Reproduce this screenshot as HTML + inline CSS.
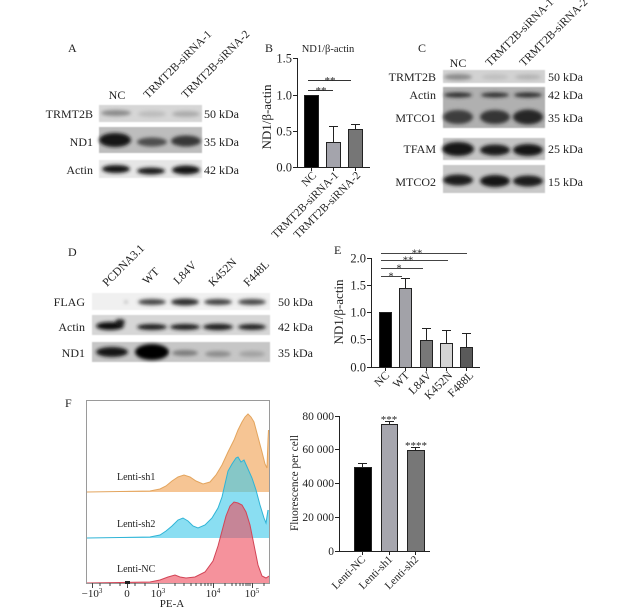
<!DOCTYPE html>
<html><head><meta charset="utf-8">
<style>
html,body{margin:0;padding:0;background:#fff;}
svg{display:block;}
text{font-family:"Liberation Serif","DejaVu Serif",serif;fill:#222;}
</style></head>
<body>
<svg width="640" height="608" viewBox="0 0 640 608" xmlns="http://www.w3.org/2000/svg">
<defs>
<filter id="b" x="-50%" y="-80%" width="200%" height="260%"><feGaussianBlur stdDeviation="1.8"/></filter>
<filter id="b2" x="-10%" y="-30%" width="120%" height="160%"><feGaussianBlur stdDeviation="0.6"/></filter>
</defs>

<!-- ============ Panel A ============ -->
<text x="68" y="52" font-size="12">A</text>
<text x="117" y="99" font-size="12" text-anchor="middle">NC</text>
<text font-size="11.5" transform="translate(148,99) rotate(-45)">TRMT2B-siRNA-1</text>
<text font-size="11.5" transform="translate(186,99) rotate(-45)">TRMT2B-siRNA-2</text>
<text x="93" y="118" font-size="12" text-anchor="end">TRMT2B</text>
<text x="93" y="146" font-size="12" text-anchor="end">ND1</text>
<text x="93" y="174" font-size="12" text-anchor="end">Actin</text>
<text x="204" y="118" font-size="12">50 kDa</text>
<text x="204" y="146" font-size="12">35 kDa</text>
<text x="204" y="174" font-size="12">42 kDa</text>
<rect x="99" y="105" width="103" height="17" fill="#d6d6d6" filter="url(#b2)"/>
<g filter="url(#b)">
<ellipse cx="116" cy="113" rx="15" ry="3" fill="#8a8a8a"/>
<ellipse cx="152" cy="114" rx="14" ry="3" fill="#bcbcbc"/>
<ellipse cx="186" cy="114" rx="14" ry="3" fill="#ababab"/>
</g>
<rect x="99" y="127" width="103" height="26" fill="#bdbdbd" filter="url(#b2)"/>
<g filter="url(#b)">
<ellipse cx="115" cy="140" rx="16" ry="7" fill="#121212"/>
<ellipse cx="152" cy="142" rx="15" ry="4.5" fill="#4e4e4e"/>
<ellipse cx="186" cy="141" rx="15" ry="5.5" fill="#383838"/>
</g>
<rect x="99" y="160" width="103" height="18" fill="#e6e6e6" filter="url(#b2)"/>
<g filter="url(#b)">
<ellipse cx="116" cy="169" rx="14" ry="4" fill="#151515"/>
<ellipse cx="151" cy="171" rx="14" ry="3.5" fill="#1e1e1e"/>
<ellipse cx="186" cy="170" rx="14" ry="4.5" fill="#141414"/>
</g>

<!-- ============ Panel B ============ -->
<text x="265" y="52" font-size="12">B</text>
<text x="328" y="52" font-size="10.5" text-anchor="middle">ND1/β-actin</text>
<text font-size="13" text-anchor="middle" transform="translate(271,117) rotate(-90)">ND1/β-actin</text>
<g stroke="#222" stroke-width="1" fill="none">
<line x1="297.5" y1="58" x2="297.5" y2="167.5"/>
<line x1="297" y1="167.5" x2="370" y2="167.5"/>
<line x1="293" y1="58.5" x2="297" y2="58.5"/>
<line x1="293" y1="95.5" x2="297" y2="95.5"/>
<line x1="293" y1="131.5" x2="297" y2="131.5"/>
<line x1="293" y1="167.5" x2="297" y2="167.5"/>
<line x1="311.5" y1="167" x2="311.5" y2="171"/>
<line x1="333.5" y1="167" x2="333.5" y2="171"/>
<line x1="355.5" y1="167" x2="355.5" y2="171"/>
</g>
<text x="292" y="62.5" font-size="12.5" text-anchor="end">1.5</text>
<text x="292" y="99.5" font-size="12.5" text-anchor="end">1.0</text>
<text x="292" y="135.5" font-size="12.5" text-anchor="end">0.5</text>
<text x="292" y="171.5" font-size="12.5" text-anchor="end">0.0</text>
<rect x="304.5" y="95.5" width="14" height="72" fill="#000" stroke="#222"/>
<g stroke="#222" stroke-width="1">
<line x1="333.5" y1="142" x2="333.5" y2="126.5"/><line x1="329" y1="126.5" x2="338" y2="126.5"/>
<line x1="355.5" y1="129" x2="355.5" y2="124.5"/><line x1="351" y1="124.5" x2="360" y2="124.5"/>
</g>
<rect x="326.5" y="142.5" width="14" height="25" fill="#a4a4ac" stroke="#222"/>
<rect x="348.5" y="129.5" width="14" height="38" fill="#767676" stroke="#222"/>
<g stroke="#333" stroke-width="1">
<line x1="308" y1="80.5" x2="351" y2="80.5"/>
<line x1="308" y1="90.5" x2="333" y2="90.5"/>
</g>
<text x="330" y="84" font-size="11" text-anchor="middle">**</text>
<text x="321" y="94" font-size="11" text-anchor="middle">**</text>
<text font-size="11.3" text-anchor="end" transform="translate(317,176) rotate(-45)">NC</text>
<text font-size="11.3" text-anchor="end" transform="translate(339,176) rotate(-45)">TRMT2B-siRNA-1</text>
<text font-size="11.3" text-anchor="end" transform="translate(361,176) rotate(-45)">TRMT2B-siRNA-2</text>

<!-- ============ Panel C ============ -->
<text x="418" y="52" font-size="12">C</text>
<text x="458" y="67" font-size="12" text-anchor="middle">NC</text>
<text font-size="11.5" transform="translate(490,67) rotate(-45)">TRMT2B-siRNA-1</text>
<text font-size="11.5" transform="translate(524,67) rotate(-45)">TRMT2B-siRNA-2</text>
<text x="436" y="81" font-size="12" text-anchor="end">TRMT2B</text>
<text x="436" y="99" font-size="12" text-anchor="end">Actin</text>
<text x="436" y="122" font-size="12" text-anchor="end">MTCO1</text>
<text x="436" y="153" font-size="12" text-anchor="end">TFAM</text>
<text x="436" y="186" font-size="12" text-anchor="end">MTCO2</text>
<text x="548" y="81" font-size="12">50 kDa</text>
<text x="548" y="99" font-size="12">42 kDa</text>
<text x="548" y="122" font-size="12">35 kDa</text>
<text x="548" y="153" font-size="12">25 kDa</text>
<text x="548" y="186" font-size="12">15 kDa</text>
<rect x="443" y="70" width="102" height="13" fill="#d2d2d2" filter="url(#b2)"/>
<g filter="url(#b)">
<ellipse cx="458" cy="77" rx="14" ry="3" fill="#8a8a8a"/>
<ellipse cx="495" cy="77" rx="13" ry="2.5" fill="#bebebe"/>
<ellipse cx="528" cy="77" rx="13" ry="2.5" fill="#b2b2b2"/>
</g>
<rect x="443" y="87" width="102" height="41" fill="#b0b0b0" filter="url(#b2)"/>
<g filter="url(#b)">
<ellipse cx="458" cy="95" rx="14" ry="2.5" fill="#2a2a2a"/>
<ellipse cx="495" cy="95" rx="14" ry="2.5" fill="#2e2e2e"/>
<ellipse cx="528" cy="95" rx="14" ry="2.5" fill="#2a2a2a"/>
<ellipse cx="458" cy="117" rx="15" ry="7" fill="#3e3e3e"/>
<ellipse cx="495" cy="117" rx="15" ry="7" fill="#343434"/>
<ellipse cx="528" cy="117" rx="15" ry="7.5" fill="#262626"/>
</g>
<rect x="443" y="138" width="102" height="22" fill="#c4c4c4" filter="url(#b2)"/>
<g filter="url(#b)">
<ellipse cx="458" cy="149" rx="16" ry="7" fill="#121212"/>
<ellipse cx="495" cy="150" rx="15" ry="5.5" fill="#1e1e1e"/>
<ellipse cx="528" cy="150" rx="15" ry="6" fill="#181818"/>
</g>
<rect x="443" y="165" width="102" height="28" fill="#c8c8c8" filter="url(#b2)"/>
<g filter="url(#b)">
<ellipse cx="458" cy="180" rx="15" ry="5.5" fill="#1e1e1e"/>
<ellipse cx="495" cy="181" rx="15" ry="6" fill="#161616"/>
<ellipse cx="528" cy="181" rx="15" ry="5.5" fill="#1e1e1e"/>
</g>

<!-- ============ Panel D ============ -->
<text x="68" y="256" font-size="12">D</text>
<text font-size="11.6" transform="translate(107,287) rotate(-45)">PCDNA3.1</text>
<text font-size="11.6" transform="translate(147,285) rotate(-45)">WT</text>
<text font-size="11.6" transform="translate(178,285) rotate(-45)">L84V</text>
<text font-size="11.6" transform="translate(213,287) rotate(-45)">K452N</text>
<text font-size="11.6" transform="translate(248,287) rotate(-45)">F448L</text>
<text x="85" y="306" font-size="12" text-anchor="end">FLAG</text>
<text x="85" y="331" font-size="12" text-anchor="end">Actin</text>
<text x="85" y="357" font-size="12" text-anchor="end">ND1</text>
<text x="278" y="306" font-size="12">50 kDa</text>
<text x="278" y="331" font-size="12">42 kDa</text>
<text x="278" y="357" font-size="12">35 kDa</text>
<rect x="92" y="293" width="178" height="17" fill="#f0f0f0" filter="url(#b2)"/>
<g filter="url(#b)">
<ellipse cx="152" cy="302" rx="14" ry="3" fill="#444"/>
<ellipse cx="185" cy="302" rx="14" ry="3.5" fill="#2e2e2e"/>
<ellipse cx="218" cy="302" rx="14" ry="3" fill="#404040"/>
<ellipse cx="252" cy="302" rx="14" ry="3" fill="#464646"/>
<ellipse cx="126" cy="302" rx="1.5" ry="1" fill="#888"/>
</g>
<rect x="92" y="315" width="178" height="20" fill="#d6d6d6" filter="url(#b2)"/>
<g filter="url(#b)">
<ellipse cx="110" cy="326" rx="14" ry="4" fill="#0e0e0e"/>
<ellipse cx="120" cy="322" rx="5" ry="3" fill="#222"/>
<ellipse cx="152" cy="327" rx="15" ry="3" fill="#1e1e1e"/>
<ellipse cx="185" cy="327" rx="15" ry="3" fill="#1e1e1e"/>
<ellipse cx="218" cy="327" rx="15" ry="3.2" fill="#1a1a1a"/>
<ellipse cx="252" cy="327" rx="14" ry="3" fill="#222"/>
</g>
<rect x="92" y="342" width="178" height="20" fill="#c6c6c6" filter="url(#b2)"/>
<g filter="url(#b)">
<ellipse cx="112" cy="352" rx="16" ry="5" fill="#141414"/>
<ellipse cx="152" cy="352" rx="17" ry="8" fill="#050505"/>
<ellipse cx="185" cy="353" rx="13" ry="3" fill="#7c7c7c"/>
<ellipse cx="218" cy="354" rx="13" ry="3" fill="#8c8c8c"/>
<ellipse cx="252" cy="354" rx="13" ry="3" fill="#a2a2a2"/>
</g>

<!-- ============ Panel E ============ -->
<text x="334" y="254" font-size="12">E</text>
<text font-size="13" text-anchor="middle" transform="translate(343,312) rotate(-90)">ND1/β-actin</text>
<g stroke="#222" stroke-width="1" fill="none">
<line x1="371.5" y1="258" x2="371.5" y2="367.5"/>
<line x1="371" y1="367.5" x2="480" y2="367.5"/>
<line x1="367" y1="258.5" x2="371" y2="258.5"/>
<line x1="367" y1="285.5" x2="371" y2="285.5"/>
<line x1="367" y1="312.5" x2="371" y2="312.5"/>
<line x1="367" y1="339.5" x2="371" y2="339.5"/>
<line x1="367" y1="367.5" x2="371" y2="367.5"/>
<line x1="385.5" y1="367" x2="385.5" y2="371"/>
<line x1="405.5" y1="367" x2="405.5" y2="371"/>
<line x1="426.5" y1="367" x2="426.5" y2="371"/>
<line x1="446.5" y1="367" x2="446.5" y2="371"/>
<line x1="466.5" y1="367" x2="466.5" y2="371"/>
</g>
<text x="366" y="262.5" font-size="12.5" text-anchor="end">2.0</text>
<text x="366" y="289.5" font-size="12.5" text-anchor="end">1.5</text>
<text x="366" y="316.5" font-size="12.5" text-anchor="end">1.0</text>
<text x="366" y="343.5" font-size="12.5" text-anchor="end">0.5</text>
<text x="366" y="371.5" font-size="12.5" text-anchor="end">0.0</text>
<g stroke="#222" stroke-width="1">
<line x1="405.5" y1="288" x2="405.5" y2="278"/><line x1="401" y1="278.5" x2="410" y2="278.5"/>
<line x1="426.5" y1="340" x2="426.5" y2="328"/><line x1="422" y1="328.5" x2="431" y2="328.5"/>
<line x1="446.5" y1="343" x2="446.5" y2="330"/><line x1="442" y1="330.5" x2="451" y2="330.5"/>
<line x1="466.5" y1="347" x2="466.5" y2="333"/><line x1="462" y1="333.5" x2="471" y2="333.5"/>
</g>
<rect x="379.5" y="312.5" width="12" height="55" fill="#000" stroke="#222"/>
<rect x="399.5" y="288.5" width="12" height="79" fill="#a2a2a8" stroke="#222"/>
<rect x="420.5" y="340.5" width="12" height="27" fill="#787878" stroke="#222"/>
<rect x="440.5" y="343.5" width="12" height="24" fill="#d4d4d4" stroke="#222"/>
<rect x="460.5" y="347.5" width="12" height="20" fill="#5a5a5a" stroke="#222"/>
<g stroke="#444" stroke-width="1">
<line x1="381" y1="253.5" x2="467" y2="253.5"/>
<line x1="381" y1="260.5" x2="448" y2="260.5"/>
<line x1="381" y1="268.5" x2="423" y2="268.5"/>
<line x1="381" y1="276.5" x2="402" y2="276.5"/>
</g>
<text x="417" y="256.5" font-size="10.5" text-anchor="middle">**</text>
<text x="408" y="263.5" font-size="10.5" text-anchor="middle">**</text>
<text x="399" y="271.5" font-size="10.5" text-anchor="middle">*</text>
<text x="391" y="279.5" font-size="10.5" text-anchor="middle">*</text>
<text font-size="11.5" text-anchor="end" transform="translate(390,376) rotate(-45)">NC</text>
<text font-size="11.5" text-anchor="end" transform="translate(410,376) rotate(-45)">WT</text>
<text font-size="11.5" text-anchor="end" transform="translate(432,376) rotate(-45)">L84V</text>
<text font-size="11.5" text-anchor="end" transform="translate(453,376) rotate(-45)">K452N</text>
<text font-size="11.5" text-anchor="end" transform="translate(474,376) rotate(-45)">F488L</text>

<!-- ============ Panel F (histogram) ============ -->
<text x="65" y="407" font-size="12">F</text>
<path d="M87,492 L150,491 L160,489 L166,486 L172,481 L178,477 L184,475 L190,477 L196,481 L203,484 L210,482 L216,475 L222,465 L228,452 L234,440 L238,430 L242,422 L245,417 L248,414 L251,417 L254,422 L258,437 L262,452 L265,464 L267,468 L268,440 L268.5,430 L269,430 L269,492 Z" fill="#f6c594" stroke="none"/>
<path d="M87,492 L150,491 L160,489 L166,486 L172,481 L178,477 L184,475 L190,477 L196,481 L203,484 L210,482 L216,475 L222,465 L228,452 L234,440 L238,430 L242,422 L245,417 L248,414 L251,417 L254,422 L258,437 L262,452 L265,464 L267,468 L268,440 L268.5,430" fill="none" stroke="#e3a55e" stroke-width="1"/>
<path d="M87,538 L150,537 L160,535 L166,531 L172,526 L178,520 L183,518 L188,521 L193,526 L198,528 L205,525 L212,518 L218,508 L222,497 L225,484 L228,471 L232,464 L236,458 L238,457 L241,462 L244,460 L248,469 L252,478 L256,490 L260,505 L264,518 L266,523 L268,510 L269,510 L269,538 Z" fill="#3cc8ea" fill-opacity="0.6" stroke="none"/>
<path d="M87,538 L150,537 L160,535 L166,531 L172,526 L178,520 L183,518 L188,521 L193,526 L198,528 L205,525 L212,518 L218,508 L222,497 L225,484 L228,471 L232,464 L236,458 L238,457 L241,462 L244,460 L248,469 L252,478 L256,490 L260,505 L264,518 L266,523 L268,510" fill="none" stroke="#2fb4d6" stroke-width="1"/>
<path d="M87,583 L150,582 L160,580 L168,577 L175,575 L180,577 L186,578 L195,577 L205,572 L213,561 L218,546 L222,531 L226,516 L230,506 L234,502 L238,503 L242,505 L246,512 L250,525 L254,545 L258,565 L262,576 L266,578 L269,576 L269,583 Z" fill="#ee4a5a" fill-opacity="0.6" stroke="none"/>
<path d="M87,583 L150,582 L160,580 L168,577 L175,575 L180,577 L186,578 L195,577 L205,572 L213,561 L218,546 L222,531 L226,516 L230,506 L234,502 L238,503 L242,505 L246,512 L250,525 L254,545 L258,565 L262,576 L266,578 L269,576" fill="none" stroke="#d24456" stroke-width="1"/>
<rect x="86.5" y="400.5" width="183" height="183" fill="none" stroke="#9a9a9a" stroke-width="1"/>
<text x="117" y="480" font-size="10">Lenti-sh1</text>
<text x="117" y="527" font-size="10">Lenti-sh2</text>
<text x="117" y="572" font-size="10">Lenti-NC</text>
<g stroke="#444" stroke-width="1">
<line x1="92.5" y1="583" x2="92.5" y2="588"/>
<line x1="127.5" y1="583" x2="127.5" y2="588"/>
<line x1="158.5" y1="583" x2="158.5" y2="588"/>
<line x1="213.5" y1="583" x2="213.5" y2="588"/>
<line x1="252.5" y1="583" x2="252.5" y2="588"/>
<line x1="175" y1="583" x2="175" y2="586"/><line x1="184" y1="583" x2="184" y2="586"/><line x1="191" y1="583" x2="191" y2="586"/><line x1="196" y1="583" x2="196" y2="586"/><line x1="201" y1="583" x2="201" y2="586"/><line x1="205" y1="583" x2="205" y2="586"/><line x1="208" y1="583" x2="208" y2="586"/><line x1="211" y1="583" x2="211" y2="586"/>
<line x1="225" y1="583" x2="225" y2="586"/><line x1="232" y1="583" x2="232" y2="586"/><line x1="236" y1="583" x2="236" y2="586"/><line x1="240" y1="583" x2="240" y2="586"/><line x1="243" y1="583" x2="243" y2="586"/><line x1="246" y1="583" x2="246" y2="586"/><line x1="248" y1="583" x2="248" y2="586"/><line x1="250" y1="583" x2="250" y2="586"/>
<line x1="264" y1="583" x2="264" y2="586"/>
<line x1="100" y1="583" x2="100" y2="586"/><line x1="110" y1="583" x2="110" y2="586"/><line x1="120" y1="583" x2="120" y2="586"/><line x1="135" y1="583" x2="135" y2="586"/><line x1="145" y1="583" x2="145" y2="586"/>
</g>
<rect x="125" y="581" width="5" height="3" fill="#222"/>
<text x="92" y="597" font-size="11" text-anchor="middle">−10<tspan font-size="7" dy="-4">3</tspan></text>
<text x="127" y="597" font-size="11" text-anchor="middle">0</text>
<text x="158" y="597" font-size="11" text-anchor="middle">10<tspan font-size="7" dy="-4">3</tspan></text>
<text x="213" y="597" font-size="11" text-anchor="middle">10<tspan font-size="7" dy="-4">4</tspan></text>
<text x="252" y="597" font-size="11" text-anchor="middle">10<tspan font-size="7" dy="-4">5</tspan></text>
<text x="172" y="607" font-size="11" text-anchor="middle">PE-A</text>

<!-- ============ Panel F (bar chart) ============ -->
<text font-size="11.3" text-anchor="middle" transform="translate(298,483) rotate(-90)">Fluorescence per cell</text>
<g stroke="#222" stroke-width="1" fill="none">
<line x1="339.5" y1="416" x2="339.5" y2="551.5"/>
<line x1="339" y1="551.5" x2="430" y2="551.5"/>
<line x1="335" y1="416.5" x2="339" y2="416.5"/>
<line x1="335" y1="449.5" x2="339" y2="449.5"/>
<line x1="335" y1="483.5" x2="339" y2="483.5"/>
<line x1="335" y1="517.5" x2="339" y2="517.5"/>
<line x1="335" y1="551.5" x2="339" y2="551.5"/>
<line x1="362.5" y1="551" x2="362.5" y2="555"/>
<line x1="389.5" y1="551" x2="389.5" y2="555"/>
<line x1="415.5" y1="551" x2="415.5" y2="555"/>
</g>
<text x="334" y="420" font-size="11.5" text-anchor="end">80 000</text>
<text x="334" y="453" font-size="11.5" text-anchor="end">60 000</text>
<text x="334" y="487" font-size="11.5" text-anchor="end">40 000</text>
<text x="334" y="521" font-size="11.5" text-anchor="end">20 000</text>
<text x="334" y="555" font-size="11.5" text-anchor="end">0</text>
<g stroke="#222" stroke-width="1">
<line x1="362.5" y1="467" x2="362.5" y2="463"/><line x1="358" y1="463.5" x2="367" y2="463.5"/>
<line x1="389.5" y1="424" x2="389.5" y2="421"/><line x1="385" y1="421.5" x2="394" y2="421.5"/>
<line x1="415.5" y1="450" x2="415.5" y2="447"/><line x1="411" y1="447.5" x2="420" y2="447.5"/>
</g>
<rect x="354.5" y="467.5" width="17" height="84" fill="#000" stroke="#222"/>
<rect x="381.5" y="424.5" width="16" height="127" fill="#a6a6ae" stroke="#222"/>
<rect x="407.5" y="450.5" width="17" height="101" fill="#777" stroke="#222"/>
<text x="389" y="423" font-size="11" text-anchor="middle">***</text>
<text x="416" y="449" font-size="11" text-anchor="middle">****</text>
<text font-size="11" text-anchor="end" transform="translate(366,560) rotate(-45)">Lenti-NC</text>
<text font-size="11" text-anchor="end" transform="translate(393,560) rotate(-45)">Lenti-sh1</text>
<text font-size="11" text-anchor="end" transform="translate(419,560) rotate(-45)">Lenti-sh2</text>
</svg>
</body></html>
